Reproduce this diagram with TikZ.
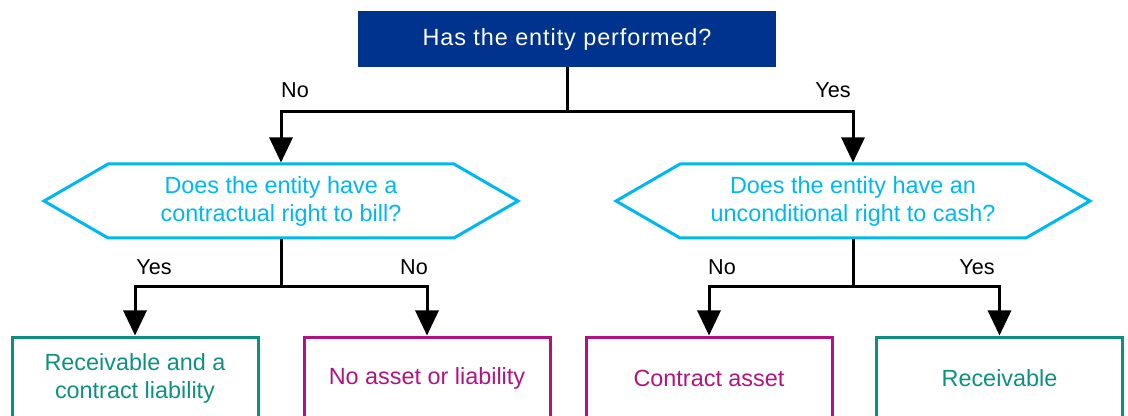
\documentclass[tikz,border=0pt]{standalone}
\usepackage{fontspec}
\setmainfont{Liberation Sans}
\usetikzlibrary{arrows.meta,shapes.symbols}
\definecolor{kpblue}{HTML}{00338D}
\definecolor{kpcyan}{HTML}{00B8F0}
\definecolor{kpteal}{HTML}{0E9080}
\definecolor{kppink}{HTML}{B1147F}

\begin{document}
\begin{tikzpicture}[x=0.5pt,y=-0.5pt,
      txt/.style={font=\fontsize{11.7}{14}\selectfont,align=center},
      topq/.style={txt,rectangle,fill=kpblue,text=white,minimum width=209pt,minimum height=28pt,inner sep=0pt},
      hexq/.style={txt,signal,signal to=west and east,signal pointer angle=60,draw=kpcyan,text=kpcyan,line width=1.5pt,minimum width=237pt,minimum height=37pt,inner sep=0pt},
      resG/.style={txt,rectangle,draw=kpteal,text=kpteal,line width=1.5pt,minimum width=123pt,minimum height=41.5pt,inner sep=0pt},
      resP/.style={resG,draw=kppink,text=kppink},
      lbl/.style={font=\fontsize{10.8}{13}\selectfont,inner sep=0pt},
      link/.style={line width=1.5pt,black},
      arr/.style={link,-{Triangle[length=12.5pt,width=11.5pt]}}]
    \useasboundingbox (0,0) rectangle (1128,416);
    % questions
    \node[topq] (q0) at (567,39) {\addfontfeature{LetterSpace=4}Has the entity performed?};
    \node[hexq] (qL) at (281,201) {Does the entity have a\\contractual right to bill?};
    \node[hexq] (qR) at (853,201) {Does the entity have an\\unconditional right to cash?};
    % outcomes
    \node[resG] (rA) at (135,378.5) {Receivable and a\\contract liability};
    \node[resP] (rB) at (427,378.5) {No asset or liability};
    \node[resP] (rC) at (709,378.5) {Contract asset};
    \node[resG] (rD) at (999.5,378.5) {Receivable};
    % branch points
    \coordinate (j0) at (567,112);
    \coordinate (jL) at (281,287);
    \coordinate (jR) at (853,287);
    \draw[link] (q0.south) -- (j0);
    \draw[arr] (j0) -| (qL.north);
    \draw[arr] (j0) -| (qR.north);
    \draw[link] (qL.south) -- (jL);
    \draw[arr] (jL) -| (rA.north);
    \draw[arr] (jL) -| (rB.north);
    \draw[link] (qR.south) -- (jR);
    \draw[arr] (jR) -| (rC.north);
    \draw[arr] (jR) -| (rD.north);
    % branch labels
    \node[lbl] (n0) at (295,90) {No};
    \node[lbl] (y0) at (833,90) {Yes};
    \node[lbl] (yL) at (154,267) {Yes};
    \node[lbl] (nL) at (414,267) {No};
    \node[lbl] (nR) at (722,267) {No};
    \node[lbl] (yR) at (977,267) {Yes};
\end{tikzpicture}
\end{document}
